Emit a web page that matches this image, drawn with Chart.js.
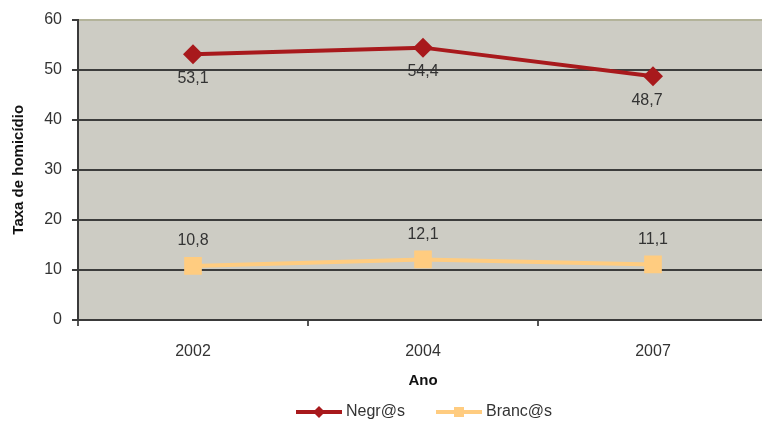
<!DOCTYPE html>
<html>
<head>
<meta charset="utf-8">
<script src="https://cdn.jsdelivr.net/npm/chart.js@4.4.1/dist/chart.umd.min.js"></script>
<style>
  html, body { margin: 0; padding: 0; background: #fff; }
  #wrap { width: 762px; height: 428px; overflow: hidden; position: relative; }
  #grafico { display: block; }
</style>
</head>
<body>
<div id="wrap"><canvas id="grafico" width="770" height="428"></canvas></div>
<script>
// dados
const anos = ["2002", "2004", "2007"];
const negros = [53.1, 54.4, 48.7];
const brancos = [10.8, 12.1, 11.1];
const rotulosNegros = ["53,1", "54,4", "48,7"];
const rotulosBrancos = ["10,8", "12,1", "11,1"];
const ticksY = [0, 10, 20, 30, 40, 50, 60];

const corNegros = "#a8191c";
const corBrancos = "#ffcc80";
const fonte = "'Liberation Sans', Arial, sans-serif";

/* fundo cinza da área de plotagem */
const fundoPlot = {
  id: "fundoPlot",
  beforeDraw(chart) {
    const a = chart.chartArea;
    const ctx = chart.ctx;
    ctx.save();
    ctx.fillStyle = "#cdccc4";
    ctx.fillRect(a.left, a.top, a.right - a.left, a.bottom - a.top);
    ctx.restore();
  },
};

/* rótulos dos valores */
const rotulos = {
  id: "rotulos",
  afterDatasetsDraw(chart) {
    const ctx = chart.ctx;
    ctx.save();
    ctx.font = "16px " + fonte;
    ctx.fillStyle = "#333";
    ctx.textAlign = "center";
    ctx.textBaseline = "middle";
    chart.getDatasetMeta(0).data.forEach((p, i) => {
      ctx.fillText(rotulosNegros[i], p.x - (i === 2 ? 6 : 0), p.y + 24);
    });
    chart.getDatasetMeta(1).data.forEach((p, i) => {
      ctx.fillText(rotulosBrancos[i], p.x, p.y - 25);
    });
    ctx.restore();
  },
};

/* legenda estilo Excel (linha + marcador) */
const legenda = {
  id: "legenda",
  afterDraw(chart) {
    const ctx = chart.ctx;
    const y = 412;
    const itens = [
      { x: 296, ds: chart.data.datasets[0] },
      { x: 436, ds: chart.data.datasets[1] },
    ];
    ctx.save();
    ctx.font = "16px " + fonte;
    ctx.textBaseline = "middle";
    itens.forEach((it) => {
      const ds = it.ds;
      ctx.strokeStyle = ds.borderColor;
      ctx.lineWidth = 4;
      ctx.beginPath();
      ctx.moveTo(it.x, y);
      ctx.lineTo(it.x + 46, y);
      ctx.stroke();
      ctx.fillStyle = ds.borderColor;
      const cx = it.x + 23;
      if (ds.pointStyle === "rectRot") {
        ctx.beginPath();
        ctx.moveTo(cx, y - 6);
        ctx.lineTo(cx + 6, y);
        ctx.lineTo(cx, y + 6);
        ctx.lineTo(cx - 6, y);
        ctx.closePath();
        ctx.fill();
      } else {
        ctx.fillRect(cx - 5, y - 5, 10, 10);
      }
      ctx.fillStyle = "#333";
      ctx.fillText(ds.label, it.x + 50, y);
    });
    ctx.restore();
  },
};

new Chart(document.getElementById("grafico"), {
  type: "line",
  data: {
    labels: anos,
    datasets: [
      {
        label: "Negr@s",
        data: negros,
        borderColor: corNegros,
        backgroundColor: corNegros,
        borderWidth: 4,
        pointStyle: "rectRot",
        pointRadius: 10,
        pointHoverRadius: 10,
        pointBorderWidth: 0,
        tension: 0,
      },
      {
        label: "Branc@s",
        data: brancos,
        borderColor: corBrancos,
        backgroundColor: corBrancos,
        borderWidth: 4,
        pointStyle: "rect",
        pointRadius: 12.5,
        pointHoverRadius: 12.5,
        pointBorderWidth: 0,
        tension: 0,
      },
    ],
  },
  options: {
    responsive: false,
    animation: false,
    layout: { autoPadding: false, padding: { top: 18, right: 2, bottom: 40, left: 0 } },
    plugins: {
      legend: { display: false },
      tooltip: { enabled: false },
    },
    scales: {
      x: {
        offset: true,
        afterFit: (s) => {
          s.height = 68;
          s.paddingLeft = 0;
          s.paddingRight = 0;
        },
        grid: {
          offset: true,
          drawOnChartArea: false,
          tickLength: 6,
          color: "#555",
          lineWidth: 2,
        },
        border: { color: "#3a3a3a", width: 2 },
        ticks: { color: "#333", font: { family: fonte, size: 16 }, padding: 16 },
        title: {
          display: true,
          text: "Ano",
          color: "#111",
          font: { family: fonte, size: 15, weight: "bold" },
          padding: { top: 4, bottom: -2 },
        },
      },
      y: {
        min: 0,
        max: 60,
        afterFit: (s) => { s.width = 78; },
        afterBuildTicks: (s) => { s.ticks = ticksY.map((v) => ({ value: v })); },
        grid: {
          color: (c) => (c.tick && c.tick.value === 60 ? "#b3b39a" : "#3c3c3c"),
          tickColor: "#3c3c3c",
          lineWidth: 2,
          tickLength: 6,
        },
        border: { color: "#3a3a3a", width: 2 },
        ticks: { color: "#333", font: { family: fonte, size: 16 }, padding: 10 },
        title: {
          display: true,
          text: "Taxa de homicídio",
          color: "#111",
          font: { family: fonte, size: 15, weight: "bold" },
          padding: { top: 10, bottom: 0 },
        },
      },
    },
  },
  plugins: [fundoPlot, rotulos, legenda],
});
</script>
</body>
</html>
